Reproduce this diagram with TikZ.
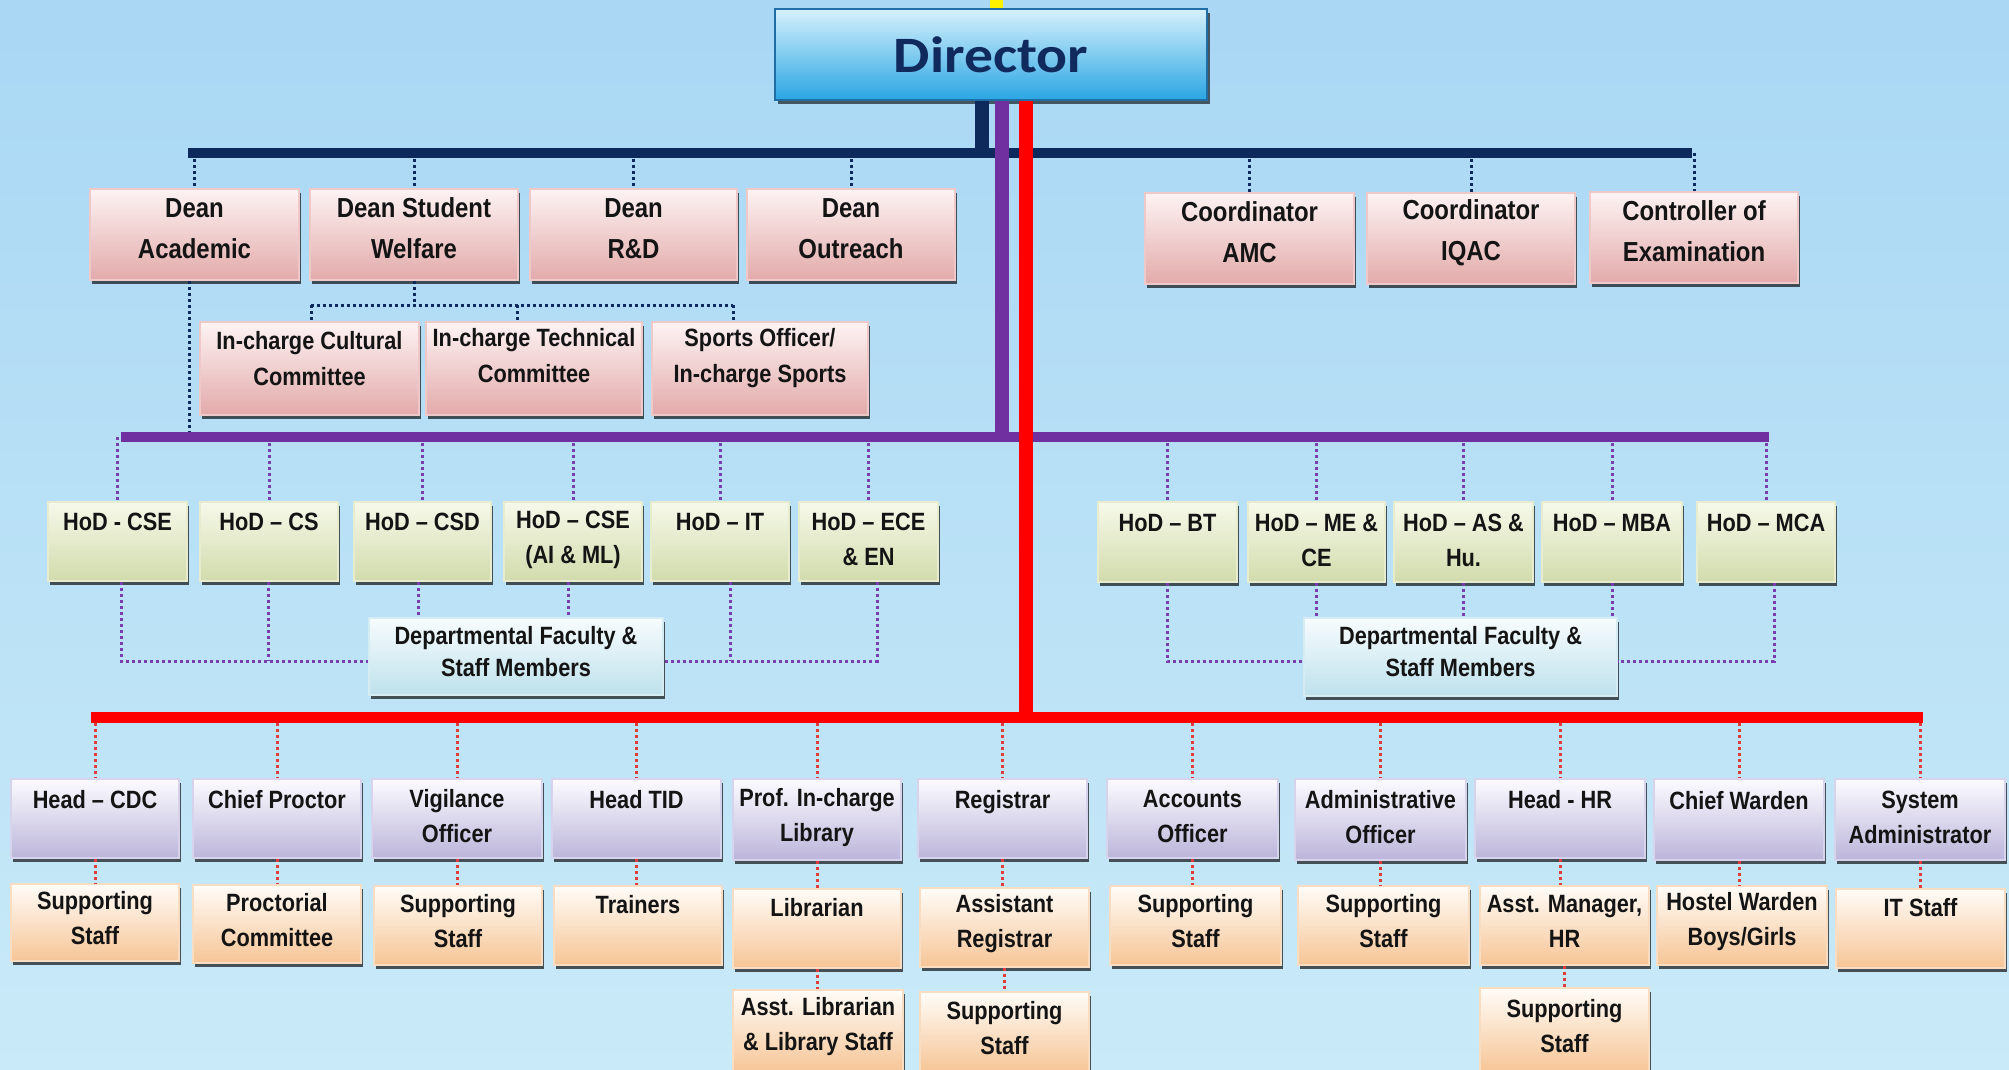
\documentclass[tikz,border=0pt]{standalone}
\usepackage{fontspec}
\setmainfont{Liberation Sans}[FakeStretch=0.87]
\newfontfamily\dirfont{Carlito}[FakeStretch=1.13]
\usetikzlibrary{shadows}
\definecolor{bgtop}{HTML}{A9D7F4}
\definecolor{bgbot}{HTML}{C9EAF8}
\definecolor{navy}{HTML}{0E2A5C}
\definecolor{purp}{HTML}{7030A0}
\definecolor{redc}{HTML}{FF0000}
\definecolor{pinkT}{HTML}{FDF3F3}\definecolor{pinkB}{HTML}{E3AAAA}\definecolor{pinkD}{HTML}{EFC9C9}
\definecolor{grT}{HTML}{F6F9EA}\definecolor{grB}{HTML}{D2DBAC}\definecolor{grD}{HTML}{E6ECCD}
\definecolor{blT}{HTML}{F7FCFE}\definecolor{blB}{HTML}{BEE1EC}\definecolor{blD}{HTML}{D5ECF2}
\definecolor{lvT}{HTML}{FCFBFF}\definecolor{lvB}{HTML}{BCB5DA}\definecolor{lvD}{HTML}{D8D3EC}
\definecolor{orT}{HTML}{FFFCF8}\definecolor{orB}{HTML}{F6C596}\definecolor{orD}{HTML}{F8DDC2}
\definecolor{dirT}{HTML}{D6F1FC}\definecolor{dirB}{HTML}{2AA5E3}\definecolor{dirD}{HTML}{1F6FA6}
\definecolor{dirtext}{HTML}{102A5E}
\definecolor{pdotc}{HTML}{7A3DB0}
\definecolor{rdotc}{HTML}{E23B3B}
% box node #1 from (#2,#3) to (#4,#5), box style #6, text style #7, text #8
\newcommand\mkbox[8]{\node[#6, minimum width={(#4-#2)*1pt}, minimum height={(#5-#3)*1pt}] (#1) at ({(#2+#4)/2},{(#3+#5)/2}) {};
  \node[boxtext,#7] (#1t) at (#1.center) {#8};}
\newcommand\ph{\\\phantom{X}}
\begin{document}
\begin{tikzpicture}[x=1pt,y=-1pt,
  basebox/.style={rectangle, inner sep=0pt, line width=1.5pt,
     drop shadow={shadow xshift=2pt, shadow yshift=-4pt, opacity=0.65, fill=black}},
  boxtext/.style={inner sep=0pt, align=center, text=black!92},
  pinkbox/.style={basebox, draw=pinkD, top color=pinkT, bottom color=pinkB},
  greenbox/.style={basebox, draw=grD, top color=grT, bottom color=grB},
  bluebox/.style={basebox, draw=blD, top color=blT, bottom color=blB},
  lavbox/.style={basebox, draw=lvD, top color=lvT, bottom color=lvB},
  orbox/.style={basebox, draw=orD, top color=orT, bottom color=orB},
  big/.style={font=\bfseries\fontsize{27.5}{41}\selectfont, yshift=6pt},
  mid/.style={font=\bfseries\fontsize{25}{36}\selectfont, yshift=10pt},
  sml/.style={font=\bfseries\fontsize{25}{35}\selectfont, yshift=2pt},
  sml2/.style={font=\bfseries\fontsize{25}{35}\selectfont, yshift=4pt},
  dfs/.style={font=\bfseries\fontsize{25}{32}\selectfont, yshift=5pt},
  dirbox/.style={rectangle, inner sep=0pt, draw=dirD, line width=2pt, top color=dirT, bottom color=dirB,
     text=dirtext, font=\dirfont\bfseries\fontsize{51}{60}\selectfont,
     drop shadow={shadow xshift=3pt, shadow yshift=-4pt, opacity=0.6, fill=black}},
  ndot/.style={draw=navy, line width=3pt, dash pattern=on 3pt off 3pt},
  pdot/.style={draw=pdotc, line width=3pt, dash pattern=on 3pt off 3pt},
  rdot/.style={draw=rdotc, line width=3pt, dash pattern=on 3pt off 3pt},
  navybar/.style={draw=navy, line width=10pt},
  purpbar/.style={draw=purp, line width=10pt},
  redbar/.style={draw=redc, line width=11pt},
  vline/.style={line width=14pt}
]
\useasboundingbox (0,0) rectangle (2009,1069);
\shade[top color=bgtop, bottom color=bgbot] (0,0) rectangle (2009,1069);
\fill[yellow] (990,0) rectangle (1003,8);

% Director
\node[dirbox, minimum width=432pt, minimum height=91pt] (dir) at (991,54.5) {Director};

% Row 1
\mkbox{deanA}{90}{189}{299}{280}{pinkbox}{big}{Dean\\Academic}
\mkbox{deanSW}{310}{189}{518}{280}{pinkbox}{big}{Dean Student\\Welfare}
\mkbox{deanRD}{530}{189}{737}{280}{pinkbox}{big}{Dean\\R\&D}
\mkbox{deanO}{747}{189}{955}{280}{pinkbox}{big}{Dean\\Outreach}
\mkbox{coAMC}{1145}{193}{1354}{284}{pinkbox}{big}{Coordinator\\AMC}
\mkbox{coIQAC}{1367}{193}{1575}{284}{pinkbox}{big}{Coordinator\\IQAC}
\mkbox{coE}{1590}{192}{1798}{283}{pinkbox}{big}{Controller of\\Examination}

% In-charge
\mkbox{icC}{200}{322}{419}{415}{pinkbox}{mid}{In-charge Cultural\\Committee}
\mkbox{icT}{426}{322}{642}{415}{pinkbox}{mid,yshift=3pt}{In-charge Technical\\Committee}
\mkbox{icS}{652}{322}{868}{415}{pinkbox}{mid}{Sports Officer/\\In-charge Sports}

% HoD
\mkbox{hodCSE}{48}{502}{187}{581}{greenbox}{sml}{HoD - CSE\ph}
\mkbox{hodCS}{200}{502}{338}{581}{greenbox}{sml}{HoD – CS\ph}
\mkbox{hodCSD}{354}{502}{491}{581}{greenbox}{sml}{HoD – CSD\ph}
\mkbox{hodAI}{504}{502}{642}{581}{greenbox}{sml}{HoD – CSE\\(AI \& ML)}
\mkbox{hodIT}{651}{502}{789}{581}{greenbox}{sml}{HoD – IT\ph}
\mkbox{hodECE}{799}{502}{938}{581}{greenbox}{sml}{HoD – ECE\\\& EN}
\mkbox{hodBT}{1098}{502}{1237}{582}{greenbox}{sml}{HoD – BT\ph}
\mkbox{hodME}{1248}{502}{1385}{582}{greenbox}{sml}{HoD – ME \&\\CE}
\mkbox{hodAS}{1394}{502}{1533}{582}{greenbox}{sml}{HoD – AS \&\\Hu.}
\mkbox{hodMBA}{1542}{502}{1682}{582}{greenbox}{sml}{HoD – MBA\ph}
\mkbox{hodMCA}{1697}{502}{1835}{582}{greenbox}{sml}{HoD – MCA\ph}

% Departmental faculty
\mkbox{dfL}{369}{618}{663}{695}{bluebox}{dfs}{Departmental Faculty \&\\Staff Members}
\mkbox{dfR}{1304}{618}{1617}{696}{bluebox}{dfs}{Departmental Faculty \&\\Staff Members}

% Bottom top row
\mkbox{cdc}{11}{779}{179}{858}{lavbox}{sml}{Head – CDC\ph}
\mkbox{proc}{193}{779}{361}{858}{lavbox}{sml}{Chief Proctor\ph}
\mkbox{vig}{372}{779}{542}{858}{lavbox}{sml}{Vigilance\\Officer}
\mkbox{tid}{552}{779}{721}{858}{lavbox}{sml}{Head TID\ph}
\mkbox{plib}{733}{779}{901}{860}{lavbox}{sml}{Prof. In-charge\\Library}
\mkbox{reg}{918}{779}{1087}{858}{lavbox}{sml}{Registrar\ph}
\mkbox{acc}{1107}{779}{1278}{858}{lavbox}{sml}{Accounts\\Officer}
\mkbox{adm}{1295}{779}{1466}{860}{lavbox}{sml}{Administrative\\Officer}
\mkbox{hr}{1475}{779}{1645}{858}{lavbox}{sml}{Head - HR\ph}
\mkbox{cw}{1654}{779}{1824}{860}{lavbox}{sml}{Chief Warden\ph}
\mkbox{sys}{1835}{779}{2005}{860}{lavbox}{sml}{System\\Administrator}

% Level 2
\mkbox{s1}{11}{884}{179}{961}{orbox}{sml2}{Supporting\\Staff}
\mkbox{s2}{193}{885}{361}{963}{orbox}{sml2}{Proctorial\\Committee}
\mkbox{s3}{374}{886}{542}{965}{orbox}{sml2}{Supporting\\Staff}
\mkbox{s4}{554}{886}{722}{965}{orbox}{sml2}{Trainers\ph}
\mkbox{s5}{733}{889}{901}{968}{orbox}{sml2}{Librarian\ph}
\mkbox{s6}{920}{888}{1089}{967}{orbox}{sml2}{Assistant\\Registrar}
\mkbox{s7}{1110}{886}{1281}{965}{orbox}{sml2}{Supporting\\Staff}
\mkbox{s8}{1298}{886}{1469}{965}{orbox}{sml2}{Supporting\\Staff}
\mkbox{s9}{1480}{886}{1649}{965}{orbox}{sml2}{Asst. Manager,\\HR}
\mkbox{s10}{1657}{886}{1827}{965}{orbox}{sml2}{Hostel Warden\\Boys/Girls}
\mkbox{s11}{1836}{889}{2005}{968}{orbox}{sml2}{IT Staff\ph}

% Level 3
\mkbox{t1}{733}{990}{903}{1072}{orbox}{sml2}{Asst. Librarian\\\& Library Staff}
\mkbox{t2}{920}{992}{1089}{1072}{orbox}{sml2}{Supporting\\Staff}
\mkbox{t3}{1480}{988}{1649}{1072}{orbox}{sml2}{Supporting\\Staff}

% bar coordinates
\coordinate (navyL) at (188,153);
\coordinate (navyR) at (1692,153);
\coordinate (purpL) at (121,437);
\coordinate (purpR) at (1769,437);
\coordinate (redL) at (91,717);
\coordinate (redR) at (1923,717);

% navy dotted drops
\foreach \b in {deanA,deanSW,deanRD,deanO,coAMC,coIQAC,coE}
  \draw[ndot] (\b.north |- navyL) -- (\b.north);
\draw[ndot] ([xshift=-5pt]deanA.south) -- ([xshift=-5pt]deanA.south |- purpL);
\coordinate (swL) at (311,305);
\coordinate (swM) at (517,305);
\coordinate (swR) at (733,305);
\draw[ndot] (deanSW.south) -- (deanSW.south |- swL);
\draw[ndot] (swL) -- (swR);
\draw[ndot] (swL) -- (swL |- icC.north);
\draw[ndot] (swM) -- (swM |- icT.north);
\draw[ndot] (swR) -- (swR |- icS.north);

% purple dotted drops
\foreach \b in {hodCSE,hodCS,hodCSD,hodAI,hodIT,hodECE,hodBT,hodME,hodAS,hodMBA,hodMCA}
  \draw[pdot] (\b.north |- purpL) -- (\b.north);
\coordinate (lb1) at (121,661);
\coordinate (lb2) at (268,661);
\coordinate (lb5) at (730,661);
\coordinate (lb6) at (877,661);
\draw[pdot] (lb1 |- hodCSE.south) -- (lb1) -- (lb1 -| dfL.west);
\draw[pdot] (lb2 |- hodCS.south) -- (lb2);
\draw[pdot] (lb5 |- hodIT.south) -- (lb5);
\draw[pdot] (lb6 |- hodECE.south) -- (lb6) -- (lb6 -| dfL.east);
\draw[pdot] ([xshift=-4pt]hodCSD.south) -- ([xshift=-4pt]hodCSD.south |- dfL.north);
\draw[pdot] ([xshift=-5pt]hodAI.south) -- ([xshift=-5pt]hodAI.south |- dfL.north);
\coordinate (rb1) at (1167,661);
\coordinate (rb5) at (1774,661);
\draw[pdot] (rb1 |- hodBT.south) -- (rb1) -- (rb1 -| dfR.west);
\draw[pdot] (rb5 |- hodMCA.south) -- (rb5) -- (rb5 -| dfR.east);
\foreach \b in {hodME,hodAS,hodMBA}
  \draw[pdot] (\b.south) -- (\b.south |- dfR.north);

% red dotted drops
\foreach \b in {cdc,proc,vig,tid,plib,reg,acc,adm,hr,cw,sys}
  \draw[rdot] (\b.north |- redL) -- (\b.north);
\foreach \a/\b in {cdc/s1,proc/s2,vig/s3,tid/s4,plib/s5,reg/s6,acc/s7,adm/s8,hr/s9,cw/s10,sys/s11,s5/t1,s6/t2,s9/t3}
  \draw[rdot] (\a.south) -- (\a.south |- \b.north);

% bars
\draw[navybar] (navyL) -- (navyR);
\draw[purpbar] (purpL) -- (purpR);
\draw[redbar] (redL) -- (redR);

% verticals from director
\draw[vline, draw=navy] ([xshift=-9pt]dir.south) -- ([xshift=-9pt]dir.south |- navyL);
\draw[vline, draw=purp] ([xshift=11pt]dir.south) -- ([xshift=11pt]dir.south |- purpL);
\draw[vline, draw=redc] ([xshift=35pt]dir.south) -- ([xshift=35pt]dir.south |- redL);
\end{tikzpicture}
\end{document}
